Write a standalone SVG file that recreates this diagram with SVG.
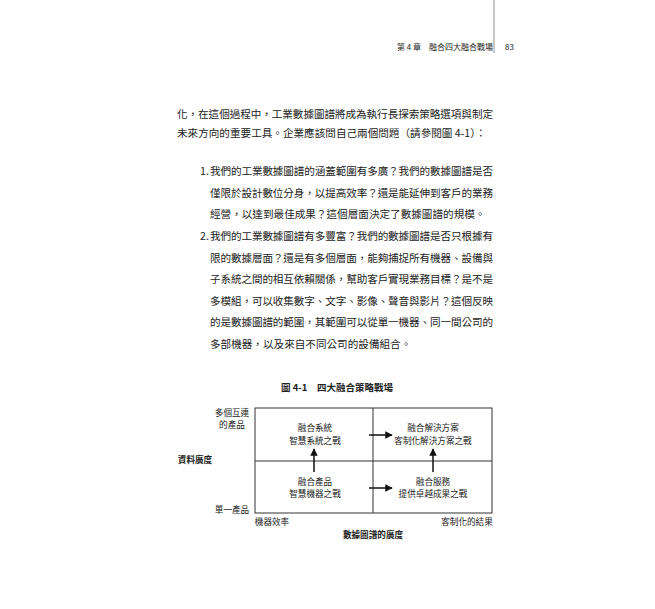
<svg xmlns="http://www.w3.org/2000/svg" width="655" height="609" viewBox="0 0 655 609">
<style>
text{font-family:"Noto Sans CJK TC","Noto Sans",sans-serif;fill:#222}
.b{font-size:10.6px}
.d{font-size:8.6px;text-anchor:middle}
.h{font-size:8px}
.ln{stroke:#333;stroke-width:1;fill:none}
.ar{stroke:#111;stroke-width:1.5;fill:none;marker-end:url(#a)}
</style>
<defs><marker id="a" viewBox="0 0 10 10" refX="9" refY="5" markerWidth="5" markerHeight="5" orient="auto"><path d="M0,0L10,5L0,10z" fill="#111"/></marker></defs>
<rect width="655" height="609" fill="#fff"/>
<line x1="494" y1="0" x2="494" y2="53" stroke="#777" stroke-width="0.8"/>
<text class="h" x="397" y="50">第 4 章　融合四大融合戰場</text>
<text class="h" x="505" y="50">83</text>
<text class="b" x="177" y="118" textLength="316">化，在這個過程中，工業數據圖譜將成為執行長探索策略選項與制定</text>
<text class="b" x="177" y="137">未來方向的重要工具。企業應該問自己兩個問題（請參閱圖 4-1）：</text>
<g class="b">
<text x="200" y="175">1.</text>
<text x="210" y="175" textLength="283">我們的工業數據圖譜的涵蓋範圍有多廣？我們的數據圖譜是否</text>
<text x="210" y="196.5" textLength="283">僅限於設計數位分身，以提高效率？還是能延伸到客戶的業務</text>
<text x="210" y="218">經營，以達到最佳成果？這個層面決定了數據圖譜的規模。</text>
<text x="200" y="240">2.</text>
<text x="210" y="240" textLength="283">我們的工業數據圖譜有多豐富？我們的數據圖譜是否只根據有</text>
<text x="210" y="261.5" textLength="283">限的數據層面？還是有多個層面，能夠捕捉所有機器、設備與</text>
<text x="210" y="283" textLength="283">子系統之間的相互依賴關係，幫助客戶實現業務目標？是不是</text>
<text x="210" y="304.5" textLength="283">多模組，可以收集數字、文字、影像、聲音與影片？這個反映</text>
<text x="210" y="326" textLength="283">的是數據圖譜的範圍，其範圍可以從單一機器、同一間公司的</text>
<text x="210" y="347.5">多部機器，以及來自不同公司的設備組合。</text>
</g>
<text x="337" y="391" text-anchor="middle" font-size="9.5" font-weight="bold">圖 4-1　四大融合策略戰場</text>
<g id="box"><rect class="ln" x="255" y="408" width="237" height="105"/>
<line class="ln" x1="373" y1="408" x2="373" y2="513"/><line class="ln" x1="255" y1="461" x2="492" y2="461"/></g>
<g id="n1"><text class="d" x="315" y="431">融合系統</text><text class="d" x="315" y="444">智慧系統之戰</text></g>
<g id="n2"><text class="d" x="433" y="431">融合解決方案</text><text class="d" x="433" y="444">客制化解決方案之戰</text></g>
<g id="n3"><text class="d" x="315" y="485">融合產品</text><text class="d" x="315" y="497">智慧機器之戰</text></g>
<g id="n4"><text class="d" x="433" y="485">融合服務</text><text class="d" x="433" y="497">提供卓越成果之戰</text></g>
<g id="connectors">
<line class="ar" x1="314" y1="472" x2="314" y2="449"/>
<line class="ar" x1="433" y1="472" x2="433" y2="449"/>
<line class="ar" x1="369" y1="435" x2="392" y2="435"/>
<line class="ar" x1="369" y1="488" x2="392" y2="488"/>
</g>
<g id="labels">
<text class="d" x="232" y="416">多個互連</text><text class="d" x="232" y="428">的產品</text>
<text class="d" x="195" y="463" font-weight="bold">資料廣度</text>
<text class="d" x="232" y="513">單一產品</text>
<text class="d" x="272" y="525">機器效率</text>
<text class="d" x="467" y="525">客制化的結果</text>
<text class="d" x="373" y="538" font-weight="bold">數據圖譜的廣度</text>
</g>
</svg>
